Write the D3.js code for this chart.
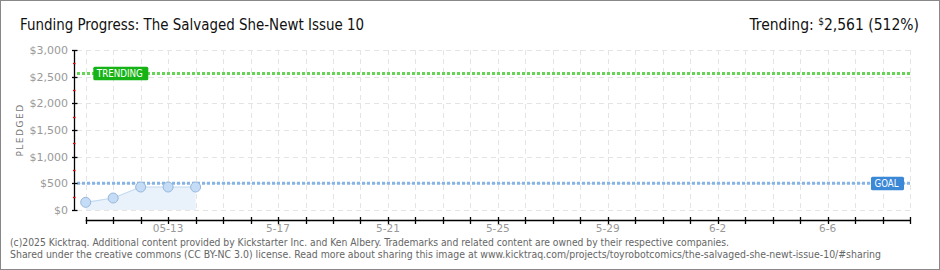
<!DOCTYPE html>
<html><head><meta charset="utf-8">
<script src="https://cdn.jsdelivr.net/npm/d3@7"></script>
<style>
html,body{margin:0;padding:0;background:#fff;}
svg{display:block;}
</style></head>
<body>
<svg id="c" width="940" height="270"></svg>
<script>
const title = "Funding Progress: The Salvaged She-Newt Issue 10";
const trendingText = "2,561 (512%)";
const dates = ["2025-05-10","2025-05-11","2025-05-12","2025-05-13","2025-05-14"];
const pledged = [144, 225, 431, 431, 431];
const goal = 500;
const trending = 2561;
const yTicks = [0, 500, 1000, 1500, 2000, 2500, 3000];
const yTickLabels = ["$0","$500","$1,000","$1,500","$2,000","$2,500","$3,000"];
const xLabelDates = ["2025-05-13","2025-05-17","2025-05-21","2025-05-25","2025-05-29","2025-06-02","2025-06-06"];
const xLabels = ["05-13","5-17","5-21","5-25","5-29","6-2","6-6"];
const footer = [
  "(c)2025 Kicktraq. Additional content provided by Kickstarter Inc. and Ken Albery. Trademarks and related content are owned by their respective companies.",
  "Shared under the creative commons (CC BY-NC 3.0) license. Read more about sharing this image at www.kicktraq.com/projects/toyrobotcomics/the-salvaged-she-newt-issue-10/#sharing"
];
const footerWidths = [719, 871];

const parse = d3.utcParse("%Y-%m-%d");
const svg = d3.select("#c");
const font = "'Liberation Sans Narrow','DejaVu Sans Condensed',sans-serif";

svg.append("rect").attr("x",0.5).attr("y",0.5).attr("width",939).attr("height",269)
  .attr("fill","#fff").attr("stroke","#888").attr("stroke-width",1);

const x = d3.scaleUtc().domain([parse("2025-05-10"), parse("2025-06-09")]).range([85.7, 910]);
const y = d3.scaleLinear().domain([0, 3000]).range([210, 50]);

// title
svg.append("text").attr("x",20).attr("y",30).attr("font-family",font).attr("font-size",15.5)
  .attr("fill","#111").attr("textLength",344).attr("lengthAdjust","spacingAndGlyphs").text(title);

const tr = svg.append("text").attr("x",919).attr("y",30).attr("text-anchor","end")
  .attr("font-family",font).attr("font-size",15.5).attr("fill","#111");
tr.append("tspan").text("Trending:  ");
tr.append("tspan").attr("font-size",10).attr("dy",-5).text("$");
tr.append("tspan").attr("dy",5).text(trendingText);

// grid
const days = d3.utcDay.range(parse("2025-05-10"), d3.utcDay.offset(parse("2025-06-09"),1));
const grid = svg.append("g").attr("stroke","#e4e4e4").attr("stroke-width",1).attr("stroke-dasharray","5,4");
grid.selectAll("line.v").data(days).join("line")
  .attr("x1",d=>Math.round(x(d))+0.5).attr("x2",d=>Math.round(x(d))+0.5).attr("y1",y(3000)).attr("y2",y(0));
grid.selectAll("line.h").data(yTicks).join("line")
  .attr("x1",77).attr("x2",911).attr("y1",d=>Math.round(y(d))+0.5).attr("y2",d=>Math.round(y(d))+0.5);

// area + line + points
const data = dates.map((d,i)=>({date:parse(d), v:pledged[i]}));
svg.append("path").datum(data)
  .attr("d", d3.area().x(d=>x(d.date)).y0(y(0)).y1(d=>y(d.v)))
  .attr("fill","#e9f1fb");
svg.append("path").datum(data)
  .attr("d", d3.line().x(d=>x(d.date)).y(d=>y(d.v)))
  .attr("fill","none").attr("stroke","#c2d9f2").attr("stroke-width",1.2);

// goal & trending lines
svg.append("line").attr("x1",77).attr("x2",911).attr("y1",y(goal)).attr("y2",y(goal))
  .attr("stroke","#86b4e6").attr("stroke-width",3).attr("stroke-dasharray","3,2");
svg.append("line").attr("x1",77).attr("x2",911).attr("y1",y(trending)).attr("y2",y(trending))
  .attr("stroke","#66d455").attr("stroke-width",3).attr("stroke-dasharray","3,2");

svg.selectAll("circle.p").data(data).join("circle")
  .attr("cx",d=>x(d.date)).attr("cy",d=>y(d.v)).attr("r",5)
  .attr("fill","#c4dcf5").attr("stroke","#97b8dc").attr("stroke-width",1);

// labels TRENDING / GOAL
function tag(xp, yc, w, color, txt, tl){
  svg.append("rect").attr("x",xp).attr("y",yc-6.7).attr("width",w).attr("height",13.5)
    .attr("rx",1.5).attr("fill",color);
  svg.append("text").attr("x",xp+3.5).attr("y",yc+4).attr("font-family","'DejaVu Sans',sans-serif")
    .attr("font-size",10.5).attr("fill","#fff")
    .attr("textLength",tl).attr("lengthAdjust","spacingAndGlyphs").text(txt);
}
tag(93.3, y(trending), 55, "#16b316", "TRENDING", 46);
tag(871, y(goal), 33, "#3a88d6", "GOAL", 24);

// y axis
const ya = svg.append("g");
ya.append("line").attr("x1",74.5).attr("x2",74.5).attr("y1",y(3000)).attr("y2",y(0)).attr("stroke","#000").attr("stroke-width",1.3);
ya.selectAll("line.t").data(yTicks).join("line")
  .attr("x1",72).attr("x2",77.5).attr("y1",d=>Math.round(y(d))+0.5).attr("y2",d=>Math.round(y(d))+0.5)
  .attr("stroke","#000").attr("stroke-width",1.3);
ya.selectAll("line.m").data(d3.range(250,3000,500)).join("line")
  .attr("x1",73).attr("x2",75.5).attr("y1",d=>Math.round(y(d))+0.5).attr("y2",d=>Math.round(y(d))+0.5)
  .attr("stroke","#e00").attr("stroke-width",1.3);
ya.selectAll("text").data(yTicks).join("text")
  .attr("x",68).attr("y",d=>y(d)+4).attr("text-anchor","end")
  .attr("font-family","'DejaVu Sans',sans-serif").attr("font-size",11).attr("fill","#999")
  .text((d,i)=>yTickLabels[i]);
svg.append("text").attr("transform","translate(23,130) rotate(-90)").attr("text-anchor","middle")
  .attr("font-family","'DejaVu Sans',sans-serif").attr("font-size",9).attr("letter-spacing",1.5)
  .attr("fill","#777").text("PLEDGED");

// x axis
const xa = svg.append("g");
xa.append("line").attr("x1",x(parse("2025-05-10"))).attr("x2",x(parse("2025-06-09"))).attr("y1",220.5).attr("y2",220.5)
  .attr("stroke","#000").attr("stroke-width",1.3);
xa.selectAll("line.t").data(days).join("line")
  .attr("x1",d=>Math.round(x(d))+0.5).attr("x2",d=>Math.round(x(d))+0.5).attr("y1",217).attr("y2",224)
  .attr("stroke","#000").attr("stroke-width",1.3);
xa.selectAll("text").data(xLabelDates).join("text")
  .attr("x",d=>x(parse(d))).attr("y",232).attr("text-anchor","middle")
  .attr("font-family","'DejaVu Sans',sans-serif").attr("font-size",10.5).attr("fill","#999")
  .text((d,i)=>xLabels[i]);

// footer
svg.selectAll("text.f").data(footer).join("text").attr("class","f")
  .attr("x",10).attr("y",(d,i)=>246+i*12)
  .attr("font-family",font).attr("font-size",10.5).attr("fill","#666")
  .attr("textLength",(d,i)=>footerWidths[i]).attr("lengthAdjust","spacingAndGlyphs").text(d=>d);
</script>
</body></html>
